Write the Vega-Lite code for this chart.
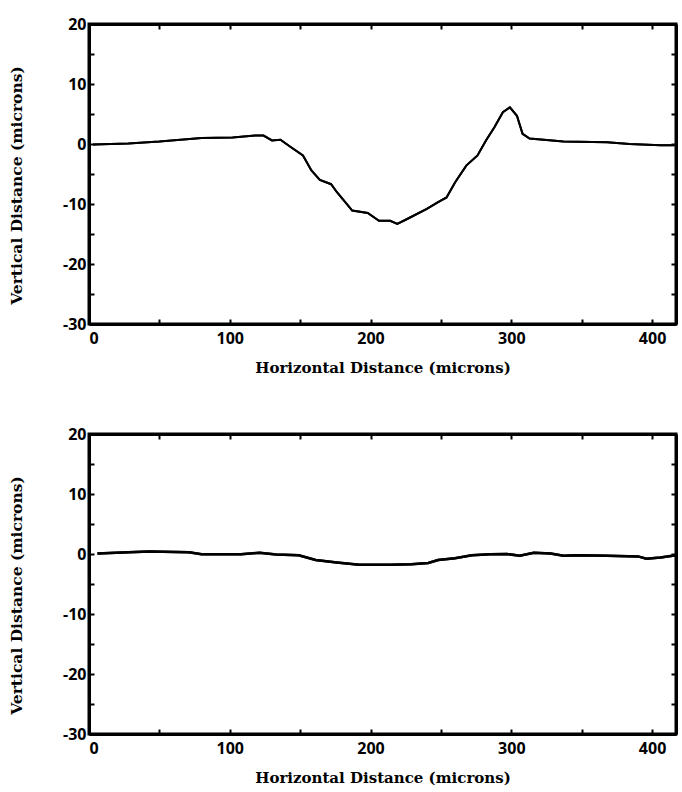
{
  "$schema": "https://vega.github.io/schema/vega-lite/v6.json",
  "padding": {"left": 8, "top": 14, "right": 2, "bottom": 5},
  "background": "white",
  "bounds": "flush",
  "spacing": 110,
  "datasets": {
    "etched": [
      {"x": 3, "y": -0.1}, {"x": 28, "y": 0.1}, {"x": 50, "y": 0.4}, {"x": 80, "y": 1.0},
      {"x": 102, "y": 1.1}, {"x": 118, "y": 1.4}, {"x": 124, "y": 1.4}, {"x": 130, "y": 0.6},
      {"x": 136, "y": 0.7}, {"x": 142, "y": -0.3}, {"x": 152, "y": -1.9}, {"x": 158, "y": -4.4},
      {"x": 164, "y": -6.0}, {"x": 172, "y": -6.7}, {"x": 176, "y": -8.0}, {"x": 181, "y": -9.4},
      {"x": 187, "y": -11.1}, {"x": 198, "y": -11.5}, {"x": 206, "y": -12.8}, {"x": 214, "y": -12.8},
      {"x": 219, "y": -13.3}, {"x": 226, "y": -12.5}, {"x": 240, "y": -10.8}, {"x": 248, "y": -9.7},
      {"x": 254, "y": -8.9}, {"x": 260, "y": -6.4}, {"x": 268, "y": -3.6}, {"x": 276, "y": -1.9},
      {"x": 282, "y": 0.6}, {"x": 288, "y": 2.8}, {"x": 294, "y": 5.3}, {"x": 299, "y": 6.1},
      {"x": 304, "y": 4.7}, {"x": 308, "y": 1.7}, {"x": 313, "y": 0.9}, {"x": 337, "y": 0.4},
      {"x": 368, "y": 0.3}, {"x": 384, "y": 0.0}, {"x": 406, "y": -0.2}, {"x": 416, "y": -0.2}
    ],
    "flat": [
      {"x": 6, "y": 0.1}, {"x": 28, "y": 0.3}, {"x": 43, "y": 0.4}, {"x": 71, "y": 0.3},
      {"x": 80, "y": -0.05}, {"x": 108, "y": -0.05}, {"x": 121, "y": 0.2}, {"x": 133, "y": -0.1},
      {"x": 149, "y": -0.2}, {"x": 161, "y": -1.0}, {"x": 176, "y": -1.4}, {"x": 192, "y": -1.8},
      {"x": 214, "y": -1.8}, {"x": 229, "y": -1.7}, {"x": 241, "y": -1.5}, {"x": 248, "y": -1.0},
      {"x": 260, "y": -0.7}, {"x": 272, "y": -0.2}, {"x": 285, "y": -0.05}, {"x": 297, "y": 0.0},
      {"x": 306, "y": -0.3}, {"x": 316, "y": 0.2}, {"x": 328, "y": 0.1}, {"x": 337, "y": -0.3},
      {"x": 347, "y": -0.2}, {"x": 368, "y": -0.3}, {"x": 390, "y": -0.4}, {"x": 396, "y": -0.8},
      {"x": 406, "y": -0.6}, {"x": 417, "y": -0.2}
    ]
  },
  "config": {
    "view": {"stroke": "black", "strokeWidth": 3},
    "axis": {
      "domainColor": "black", "domainWidth": 3, "tickColor": "black", "tickWidth": 2,
      "tickSize": -5, "grid": false,
      "labelFont": "Open Sans", "labelFontWeight": "bold", "labelFontSize": 16, "labelColor": "black",
      "titleFont": "DejaVu Serif", "titleFontWeight": "bold", "titleFontSize": 15.5, "titleColor": "black"
    },
    "axisBottom": {"titleFontSize": 15}
  },
  "vconcat": [
    {
      "width": 587, "height": 300,
      "data": {"name": "etched"},
      "resolve": {"axis": {"x": "independent", "y": "independent"}},
      "layer": [
        {
          "mark": {"type": "line", "color": "black", "strokeWidth": 2},
          "encoding": {
            "x": {"field": "x", "type": "quantitative", "scale": {"domain": [0, 417], "nice": false},
                  "axis": {"orient": "bottom", "title": "Horizontal Distance (microns)", "values": [0,50,100,150,200,250,300,350,400],
                           "labelExpr": "datum.value % 100 === 0 ? toString(datum.value) : ''", "labelPadding": 11, "titlePadding": 14}},
            "y": {"field": "y", "type": "quantitative", "scale": {"domain": [-30, 20], "nice": false},
                  "axis": {"orient": "left", "title": "Vertical Distance (microns)", "values": [-30,-25,-20,-15,-10,-5,0,5,10,15,20],
                           "labelExpr": "datum.value % 10 === 0 ? toString(datum.value) : ''", "labelPadding": 8, "titlePadding": 38, "titleY": 161}}
          }
        },
        {
          "mark": {"type": "line", "color": "black", "strokeWidth": 2},
          "encoding": {
            "x": {"field": "x", "type": "quantitative", "scale": {"domain": [0, 417], "nice": false},
                  "axis": {"orient": "top", "title": null, "labels": false, "values": [0,50,100,150,200,250,300,350,400]}},
            "y": {"field": "y", "type": "quantitative", "scale": {"domain": [-30, 20], "nice": false},
                  "axis": {"orient": "right", "title": null, "labels": false, "values": [-30,-25,-20,-15,-10,-5,0,5,10,15,20]}}
          }
        }
      ]
    },
    {
      "width": 587, "height": 300,
      "data": {"name": "flat"},
      "resolve": {"axis": {"x": "independent", "y": "independent"}},
      "layer": [
        {
          "mark": {"type": "line", "color": "black", "strokeWidth": 2.5},
          "encoding": {
            "x": {"field": "x", "type": "quantitative", "scale": {"domain": [0, 417], "nice": false},
                  "axis": {"orient": "bottom", "title": "Horizontal Distance (microns)", "values": [0,50,100,150,200,250,300,350,400],
                           "labelExpr": "datum.value % 100 === 0 ? toString(datum.value) : ''", "labelPadding": 11, "titlePadding": 14}},
            "y": {"field": "y", "type": "quantitative", "scale": {"domain": [-30, 20], "nice": false},
                  "axis": {"orient": "left", "title": "Vertical Distance (microns)", "values": [-30,-25,-20,-15,-10,-5,0,5,10,15,20],
                           "labelExpr": "datum.value % 10 === 0 ? toString(datum.value) : ''", "labelPadding": 8, "titlePadding": 38, "titleY": 161}}
          }
        },
        {
          "mark": {"type": "line", "color": "black", "strokeWidth": 2.5},
          "encoding": {
            "x": {"field": "x", "type": "quantitative", "scale": {"domain": [0, 417], "nice": false},
                  "axis": {"orient": "top", "title": null, "labels": false, "values": [0,50,100,150,200,250,300,350,400]}},
            "y": {"field": "y", "type": "quantitative", "scale": {"domain": [-30, 20], "nice": false},
                  "axis": {"orient": "right", "title": null, "labels": false, "values": [-30,-25,-20,-15,-10,-5,0,5,10,15,20]}}
          }
        }
      ]
    }
  ]
}
